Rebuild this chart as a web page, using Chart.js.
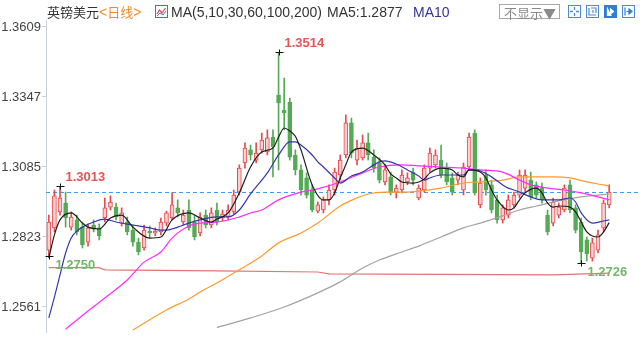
<!DOCTYPE html>
<html><head><meta charset="utf-8">
<script src="https://cdn.jsdelivr.net/npm/chart.js@4.4.1/dist/chart.umd.min.js"></script>
<style>
html,body{margin:0;padding:0;background:#fff}
body{width:640px;height:360px;overflow:hidden;position:relative;font-family:"Liberation Sans",Arial,sans-serif}
canvas{position:absolute;left:0;top:0}
.t{position:absolute;white-space:nowrap;line-height:18px;top:3px;color:#333}
.cjk{font-family:"Noto Sans CJK SC",sans-serif;font-size:13px}
.lat{font-size:14px}
.ab{font-family:"Liberation Sans",Arial,sans-serif;font-size:14px}
.ic{position:absolute;top:5px;width:13px;height:13px}
</style></head>
<body>
<canvas id="c" width="640" height="360"></canvas>
<div class="t cjk" style="left:47px">英镑美元<span style="color:#f5892a"><span class="ab">&lt;</span>日线<span class="ab">&gt;</span></span></div>
<svg class="ic" style="left:155px" viewBox="0 0 13 13"><rect x="0.5" y="0.5" width="12" height="12" fill="#fff" stroke="#4a6fc0"/><polyline points="2,9 4.5,5 7,8 10.5,3" fill="none" stroke="#e04a4a" stroke-width="1.2"/><polyline points="2,11 5,8 8,10 11,6" fill="none" stroke="#4a6fc0" stroke-width="1"/></svg>
<div class="t lat" style="left:171px">MA(5,10,30,60,100,200)</div>
<div class="t lat" style="left:327px">MA5:1.2877</div>
<div class="t lat" style="left:413px;color:#34349a">MA10</div>
<div class="t cjk" style="left:499px;top:4px;height:15px;line-height:15px;width:61px;border:1px solid #a8a8a8;color:#8a8a8a;padding-left:4px;box-sizing:border-box">不显示▼</div>
<svg class="ic" style="left:568px" viewBox="0 0 13 13"><rect x="0.5" y="0.5" width="12" height="12" fill="#fff" stroke="#4a8ad8"/><path d="M6.5 2v3M6.5 8v3M2 6.5h3M8 6.5h3" stroke="#4a8ad8" stroke-width="1.3"/></svg>
<svg class="ic" style="left:586px" viewBox="0 0 13 13"><rect x="0.5" y="0.5" width="12" height="12" fill="#fff" stroke="#4a8ad8"/><path d="M3 3v7h7M5 3h5v5M7 5v3" fill="none" stroke="#4a8ad8" stroke-width="1.2"/></svg>
<svg class="ic" style="left:604px" viewBox="0 0 13 13"><rect x="0" y="0" width="13" height="13" fill="#2d7fd6"/><path d="M3.5 2.5v8h4M6.5 4l3 2.5-3 2.5z" fill="#fff" stroke="#fff" stroke-width="1.2"/></svg>
<svg class="ic" style="left:622px" viewBox="0 0 13 13"><rect x="0.5" y="0.5" width="12" height="12" fill="#fff" stroke="#4a8ad8"/><path d="M3 2.5v8M4.5 6.5h3.5M7 4l3 2.5-3 2.5z" fill="#2d7fd6" stroke="#2d7fd6" stroke-width="1.2"/></svg>
<script>
// ---- daily candles (GBP/USD) ----
const opens  = [1.2774,1.2857,1.2917,1.2950,1.2860,1.2887,1.2860,1.2804,1.2868,1.2857,
1.2894,1.2935,1.2935,1.2875,1.2879,1.2849,1.2804,1.2782,1.2845,1.2838,
1.2842,1.2875,1.2894,1.2932,1.2879,1.2924,1.2879,1.2838,1.2905,1.2868,
1.2924,1.2894,1.2898,1.2917,1.2991,1.3100,1.3149,1.3111,1.3149,1.3141,
1.3197,1.3354,1.3298,1.3328,1.3130,1.3074,1.3044,1.2999,1.2920,1.2924,
1.2962,1.2999,1.3055,1.3130,1.3250,1.3111,1.3119,1.3175,1.3122,1.3100,
1.3029,1.3048,1.2991,1.2999,1.3029,1.3066,1.2969,1.2999,1.3081,1.3093,
1.3111,1.3081,1.3044,1.3036,1.2999,1.3085,1.3212,1.2943,1.3055,1.3018,
1.2962,1.2887,1.2905,1.2943,1.2980,1.3006,1.3036,1.3018,1.3006,1.2905,
1.2875,1.2905,1.2924,1.3018,1.2932,1.2879,1.2812,1.2744,1.2774,1.2857,1.2943];
const highs  = [1.2905,1.2999,1.3013,1.2991,1.2917,1.2905,1.2879,1.2872,1.2887,1.2872,
1.2969,1.2977,1.2950,1.2932,1.2898,1.2868,1.2819,1.2868,1.2864,1.2857,
1.2894,1.2920,1.2988,1.2962,1.2924,1.2962,1.2905,1.2913,1.2924,1.2932,
1.2950,1.2924,1.2943,1.2999,1.3093,1.3175,1.3167,1.3175,1.3212,1.3224,
1.3224,1.3514,1.3418,1.3343,1.3149,1.3093,1.3063,1.3018,1.2954,1.2973,
1.3018,1.3081,1.3130,1.3280,1.3268,1.3186,1.3205,1.3212,1.3149,1.3119,
1.3093,1.3066,1.3018,1.3074,1.3063,1.3081,1.3018,1.3093,1.3156,1.3149,
1.3167,1.3100,1.3063,1.3066,1.3100,1.3212,1.3224,1.3044,1.3074,1.3036,
1.2980,1.2943,1.2980,1.2991,1.3074,1.3074,1.3066,1.3029,1.3025,1.2924,
1.2969,1.2950,1.3018,1.3036,1.2943,1.2894,1.2823,1.2819,1.2849,1.2962,1.3018];
const lows   = [1.2750,1.2842,1.2905,1.2860,1.2849,1.2831,1.2782,1.2789,1.2842,1.2812,
1.2879,1.2924,1.2887,1.2864,1.2831,1.2789,1.2756,1.2774,1.2819,1.2827,
1.2831,1.2864,1.2887,1.2898,1.2868,1.2849,1.2812,1.2827,1.2857,1.2857,
1.2868,1.2883,1.2887,1.2909,1.2980,1.3081,1.3111,1.3100,1.3137,1.3130,
1.3048,1.3074,1.3224,1.3111,1.3055,1.2980,1.2969,1.2917,1.2913,1.2913,
1.2943,1.2980,1.3036,1.3119,1.3119,1.3093,1.3111,1.3111,1.3066,1.3025,
1.3018,1.2980,1.2969,1.2988,1.3018,1.3018,1.2962,1.2991,1.3066,1.3081,
1.3044,1.3018,1.2980,1.3018,1.2980,1.3074,1.2980,1.2932,1.2980,1.2913,
1.2875,1.2875,1.2894,1.2932,1.2969,1.2991,1.2962,1.2969,1.2950,1.2831,
1.2864,1.2894,1.2917,1.2913,1.2838,1.2726,1.2733,1.2733,1.2763,1.2842,1.2932];
const closes = [1.2879,1.2977,1.2969,1.2894,1.2898,1.2842,1.2793,1.2857,1.2853,1.2827,
1.2932,1.2954,1.2898,1.2913,1.2842,1.2804,1.2767,1.2849,1.2838,1.2845,
1.2879,1.2913,1.2943,1.2913,1.2905,1.2857,1.2823,1.2898,1.2868,1.2913,
1.2879,1.2909,1.2924,1.2980,1.3081,1.3156,1.3130,1.3137,1.3186,1.3194,
1.3160,1.3325,1.3287,1.3122,1.3074,1.2999,1.2980,1.2924,1.2943,1.2962,
1.2999,1.3066,1.3111,1.3250,1.3137,1.3156,1.3175,1.3130,1.3081,1.3036,
1.3074,1.2991,1.3006,1.3055,1.3044,1.3036,1.3006,1.3081,1.3137,1.3130,
1.3055,1.3029,1.2991,1.3055,1.3085,1.3197,1.2988,1.3025,1.2999,1.2924,
1.2887,1.2932,1.2962,1.2980,1.3055,1.3055,1.2973,1.2980,1.2962,1.2842,
1.2954,1.2935,1.3006,1.2924,1.2849,1.2767,1.2760,1.2801,1.2831,1.2950,1.2991];

// ---- moving averages: [candle index, value] ----
const ma5 = [[0,1.2744],[1,1.2831],[2,1.2887],[4,1.2913],[6,1.2875],[7,1.2860],[9,1.2853],[11,1.2894],[13,1.2905],[15,1.2860],
[18,1.2819],[20,1.2823],[22,1.2887],[25,1.2913],[27,1.2894],[29,1.2879],[30,1.2890],[32,1.2913],[34,1.2988],[36,1.3085],
[38,1.3141],[40,1.3156],[41,1.3197],[42,1.3231],[43,1.3220],[44,1.3200],[45,1.3149],[47,1.3018],[49,1.2962],[50,1.2962],
[51,1.2988],[52,1.3044],[53,1.3093],[54,1.3141],[56,1.3156],[58,1.3130],[60,1.3093],[61,1.3059],[62,1.3044],[63,1.3029],
[65,1.3025],[67,1.3040],[68,1.3063],[70,1.3081],[72,1.3074],[73,1.3055],[74,1.3048],[75,1.3074],[77,1.3066],[78,1.3044],
[79,1.2999],[80,1.2962],[82,1.2924],[83,1.2932],[84,1.2962],[85,1.2988],[87,1.3006],[88,1.2988],[89,1.2950],[90,1.2935],
[91,1.2939],[93,1.2935],[94,1.2917],[95,1.2879],[96,1.2842],[97,1.2827],[98,1.2823],[99,1.2842],[100,1.2877]];
const ma10 = [[0,1.2520],[1,1.2598],[2,1.2681],[3,1.2763],[4,1.2819],[5,1.2845],[6,1.2860],[8,1.2879],[10,1.2890],[12,1.2879],
[15,1.2868],[18,1.2857],[20,1.2849],[21,1.2849],[23,1.2860],[25,1.2875],[27,1.2887],[30,1.2898],[32,1.2898],[34,1.2924],
[36,1.2984],[39,1.3063],[41,1.3130],[43,1.3179],[44,1.3179],[45,1.3167],[47,1.3130],[48,1.3104],[49,1.3085],[51,1.3044],
[52,1.3025],[54,1.3051],[56,1.3066],[58,1.3093],[59,1.3104],[60,1.3108],[62,1.3096],[64,1.3074],[66,1.3051],[67,1.3036],
[68,1.3044],[70,1.3055],[72,1.3055],[74,1.3055],[75,1.3074],[77,1.3070],[79,1.3048],[81,1.3018],[82,1.3006],[83,1.2999],
[84,1.2991],[86,1.2973],[88,1.2962],[90,1.2962],[91,1.2962],[93,1.2969],[94,1.2954],[95,1.2913],[97,1.2875],[99,1.2883],[100,1.2887]];
const ma30 = [[3,1.2478],[7,1.2546],[10,1.2595],[14,1.2662],[17,1.2729],[20,1.2767],[22,1.2819],[25,1.2864],[27,1.2875],[30,1.2879],
[34,1.2898],[36,1.2913],[38,1.2924],[41,1.2962],[45,1.2991],[48,1.3003],[52,1.3029],[56,1.3063],[59,1.3085],[63,1.3093],
[66,1.3089],[70,1.3085],[74,1.3081],[77,1.3074],[81,1.3066],[84,1.3036],[86,1.3018],[89,1.3006],[92,1.2999],[95,1.2988],[98,1.2973],[100,1.2962]];
const ma60 = [[15,1.2475],[21,1.2550],[25,1.2591],[27,1.2617],[30,1.2651],[34,1.2700],[38,1.2752],[41,1.2801],[45,1.2838],[48,1.2875],
[52,1.2939],[55,1.2969],[57,1.2984],[60,1.2991],[64,1.2991],[66,1.2995],[70,1.3006],[74,1.3025],[77,1.3029],[81,1.3036],
[84,1.3048],[87,1.3048],[90,1.3048],[93,1.3044],[96,1.3029],[99,1.3018],[100,1.3014]];
const ma100 = [[30,1.2484],[36,1.2520],[42,1.2561],[48,1.2614],[52,1.2655],[56,1.2707],[59,1.2737],[63,1.2767],[66,1.2789],[70,1.2823],
[74,1.2857],[77,1.2875],[81,1.2902],[84,1.2924],[87,1.2939],[91,1.2958],[95,1.2973],[98,1.2980],[100,1.2984]];
const ma200 = [[0,1.2708],[9,1.2708],[10,1.2700],[30,1.2696],[48,1.2692],[50,1.2685],[90,1.2681],[100,1.2688]];

const yTicks = [1.2561, 1.2823, 1.3085, 1.3347, 1.3609];
const yMin = 1.24674, yMax = 1.36352;
const extremes = [
  {i:41, v:1.3514, kind:'hi'},
  {i:2,  v:1.3013, kind:'hi'},
  {i:0,  v:1.2750, kind:'lo'},
  {i:95, v:1.2726, kind:'lo'}
];
const lastClose = closes[closes.length-1];

const UP_LINE = '#e8494c', UP_FILL = '#f9cfcf', DN = '#55aa55';
const labels = opens.map((_, i) => i);
const isUp = opens.map((o, i) => closes[i] >= o);
function sparse(pairs){ const a = labels.map(() => null); pairs.forEach(([i, v]) => { a[i] = v; }); return a; }
function maLine(pairs, color, w, mono){
  return {type:'line', data:sparse(pairs), borderColor:color, borderWidth:w, pointRadius:0,
          spanGaps:true, fill:false, cubicInterpolationMode: mono ? 'monotone' : 'default', tension:0, order:1};
}

const overlay = {
  id:'overlay',
  beforeDatasetsDraw(chart){
    const {ctx, scales:{y}, chartArea} = chart;
    const py = Math.round(y.getPixelForValue(lastClose)) + 0.5;
    ctx.save();
    ctx.strokeStyle = '#3d9cf5'; ctx.lineWidth = 1; ctx.setLineDash([4,3]);
    ctx.beginPath(); ctx.moveTo(chartArea.left, py); ctx.lineTo(chart.width, py); ctx.stroke();
    ctx.restore();
  },
  afterDatasetsDraw(chart){
    const {ctx, scales:{x, y}} = chart;
    ctx.save();
    ctx.font = 'bold 13px "Liberation Sans", Arial, sans-serif';
    ctx.textBaseline = 'middle'; ctx.textAlign = 'left';
    extremes.forEach(m => {
      const px = Math.round(x.getPixelForValue(m.i)) + 0.5;
      const py = Math.round(y.getPixelForValue(m.v)) + 0.5;
      ctx.strokeStyle = '#111'; ctx.lineWidth = 1;
      ctx.beginPath(); ctx.moveTo(px-4, py); ctx.lineTo(px+4, py);
      ctx.moveTo(px, py-3); ctx.lineTo(px, py+3); ctx.stroke();
      if (m.kind === 'hi') { ctx.fillStyle = '#e65454'; ctx.fillText(m.v.toFixed(4), px+5, py-9); }
      else { ctx.fillStyle = '#74b86c'; ctx.fillText(m.v.toFixed(4), px+6, py+9); }
    });
    ctx.restore();
  }
};

new Chart(document.getElementById('c'), {
  type:'bar',
  data:{
    labels,
    datasets:[
      maLine(ma5,  '#1e1e1e', 1.2, true),
      maLine(ma10, '#3636b0', 1.2, true),
      maLine(ma30, '#ff2bff', 1.2, true),
      maLine(ma60, '#ff9a2e', 1.2, true),
      maLine(ma100,'#a3a3a3', 1.2, true),
      maLine(ma200,'#e57373', 1.2, false),
      {type:'bar', data:opens.map((o, i) => [o, closes[i]]), grouped:false, barThickness:4, order:10,
       backgroundColor:isUp.map(u => u ? UP_FILL : DN), borderColor:isUp.map(u => u ? UP_LINE : DN),
       borderWidth:1, borderSkipped:false},
      {type:'bar', data:lows.map((l, i) => [l, highs[i]]), grouped:false, barThickness:1, order:11,
       backgroundColor:isUp.map(u => u ? UP_LINE : DN), borderWidth:0}
    ]
  },
  options:{
    responsive:false, animation:false, devicePixelRatio:1,
    layout:{padding:{top:20, bottom:28, right:28, left:0}},
    plugins:{legend:{display:false}, tooltip:{enabled:false}},
    scales:{
      x:{display:false, offset:true, grid:{display:false}},
      y:{min:yMin, max:yMax, position:'left',
         afterBuildTicks(s){ s.ticks = yTicks.map(v => ({value:v})); },
         afterFit(s){ s.width = 46; },
         grid:{display:true, drawOnChartArea:false, drawTicks:true, tickLength:4, color:'#c8d0dc'},
         border:{display:true, color:'#c8d0dc'},
         ticks:{callback:v => Number(v).toFixed(4), color:'#444', padding:1,
                font:{size:13, family:'"Liberation Sans", Arial, sans-serif'}}}
    }
  },
  plugins:[overlay]
});
</script>
</body></html>
